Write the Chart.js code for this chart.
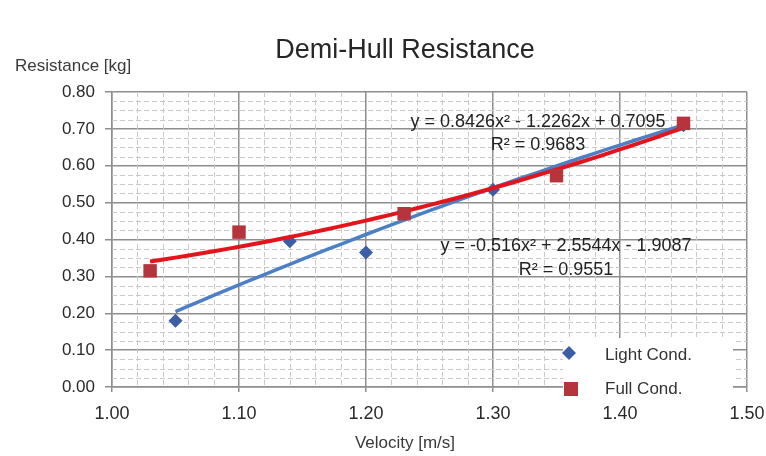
<!DOCTYPE html>
<html>
<head>
<meta charset="utf-8">
<script src="https://cdn.jsdelivr.net/npm/chart.js@4.4.1/dist/chart.umd.min.js"></script>
<style>
  html, body { margin: 0; padding: 0; background: #fff; }
  #wrap { width: 766px; height: 456px; position: relative; }
</style>
</head>
<body>
<div id="wrap"><canvas id="chart" width="766" height="456"></canvas></div>
<script>
// data
const lightX = [1.05, 1.14, 1.20, 1.30, 1.45];
const lightY = [0.18, 0.395, 0.365, 0.535, 0.71];
const fullX = [1.03, 1.10, 1.23, 1.35, 1.45];
const fullY = [0.315, 0.42, 0.47, 0.573, 0.715];

// polynomial trendline coefficients as printed on the chart (a, b, c)
const lightFit = [-0.516, 2.5544, -1.9087];
const fullFit = [0.8426, -1.2262, 0.7095];
const lightEq = ['y = -0.516x² + 2.5544x - 1.9087', 'R² = 0.9551'];
const fullEq = ['y = 0.8426x² - 1.2262x + 0.7095', 'R² = 0.9683'];

const xTicks = [1.00, 1.10, 1.20, 1.30, 1.40, 1.50];
const yTicks = [0.00, 0.10, 0.20, 0.30, 0.40, 0.50, 0.60, 0.70, 0.80];

const BLUE_MK = '#3c5ea6', BLUE_LN = '#4b7fc6';
const RED_MK = '#b6343b', RED_LN = '#e2141c';
const FONT = "'Liberation Sans', Arial, sans-serif";

function pts(xs, ys) { return xs.map((x, i) => ({ x: x, y: ys[i] })); }

// sample the printed trendline across the span of its own series
function trend(coef, xs) {
    const lo = Math.min(...xs), hi = Math.max(...xs);
    const out = [];
    const n = 40;
    for (let i = 0; i <= n; i++) {
        const x = lo + (hi - lo) * i / n;
        out.push({ x: x, y: coef[0] * x * x + coef[1] * x + coef[2] });
    }
    return out;
}

const minorGrid = {
    id: 'minorGrid',
    beforeDatasetsDraw(chart) {
        const { ctx, chartArea: a, scales: { x, y } } = chart;
        ctx.save();
        ctx.strokeStyle = '#c9c9c9';
        ctx.lineWidth = 1;
        ctx.setLineDash([5, 3]);
        for (let v = 1.02; v < 1.5; v += 0.02) {
            if (Math.abs(v * 10 - Math.round(v * 10)) < 0.01) continue;
            const px = Math.round(x.getPixelForValue(v)) + 0.5;
            ctx.beginPath(); ctx.moveTo(px, a.top); ctx.lineTo(px, a.bottom); ctx.stroke();
        }
        for (let v = 0.025; v < 0.8; v += 0.025) {
            if (Math.abs(v * 10 - Math.round(v * 10)) < 0.01) continue;
            const py = Math.round(y.getPixelForValue(v)) + 0.5;
            ctx.beginPath(); ctx.moveTo(a.left, py); ctx.lineTo(a.right, py); ctx.stroke();
        }
        ctx.restore();
    }
};

const labels = {
    id: 'labels',
    afterDraw(chart) {
        const ctx = chart.ctx;
        ctx.save();
        ctx.fillStyle = '#262626';
        ctx.textBaseline = 'alphabetic';

        ctx.font = '27px ' + FONT;
        ctx.textAlign = 'center';
        ctx.fillText('Demi-Hull Resistance', 405, 58);

        ctx.font = '17px ' + FONT;
        ctx.fillStyle = '#3a3a3a';
        ctx.fillText('Velocity [m/s]', 405, 448);
        ctx.textAlign = 'left';
        ctx.fillText('Resistance [kg]', 15, 71);

        // trendline equations
        ctx.fillStyle = '#222';
        ctx.font = '18px ' + FONT;
        ctx.textAlign = 'center';
        ctx.fillText(fullEq[0], 538, 127);
        ctx.fillText(fullEq[1], 538, 150);
        ctx.fillText(lightEq[0], 566, 251);
        ctx.fillText(lightEq[1], 566, 275);

        // legend
        ctx.fillStyle = '#fff';
        ctx.fillRect(563, 338, 170, 60);
        ctx.fillStyle = BLUE_MK;
        ctx.beginPath();
        ctx.moveTo(569, 346); ctx.lineTo(576, 353); ctx.lineTo(569, 360); ctx.lineTo(562, 353);
        ctx.closePath(); ctx.fill();
        ctx.fillStyle = RED_MK;
        ctx.fillRect(564, 382, 14, 14);
        ctx.fillStyle = '#333';
        ctx.font = '17px ' + FONT;
        ctx.textAlign = 'left';
        ctx.fillText('Light Cond.', 605, 360);
        ctx.fillText('Full Cond.', 605, 394);
        ctx.restore();
    }
};

new Chart(document.getElementById('chart'), {
    type: 'scatter',
    data: {
        datasets: [
            {
                label: 'Full Cond.', data: pts(fullX, fullY), order: 0,
                pointStyle: 'rect', pointRadius: 9.5, pointHoverRadius: 9.5,
                backgroundColor: RED_MK, borderColor: RED_MK, borderWidth: 0
            },
            {
                label: 'Full trend', data: trend(fullFit, fullX), order: 1,
                showLine: true, pointRadius: 0, borderColor: RED_LN, borderWidth: 4
            },
            {
                label: 'Light trend', data: trend(lightFit, lightX), order: 2,
                showLine: true, pointRadius: 0, borderColor: BLUE_LN, borderWidth: 3.5
            },
            {
                label: 'Light Cond.', data: pts(lightX, lightY), order: 3,
                pointStyle: 'rectRot', pointRadius: 7, pointHoverRadius: 7,
                backgroundColor: BLUE_MK, borderColor: BLUE_MK, borderWidth: 0
            }
        ]
    },
    options: {
        responsive: false,
        animation: false,
        layout: { padding: { top: 92, right: 19, left: 0, bottom: 0 } },
        plugins: { legend: { display: false }, title: { display: false }, tooltip: { enabled: false } },
        scales: {
            x: {
                type: 'linear', min: 1.0, max: 1.5,
                afterFit(s) { s.height = 69; s.paddingLeft = 0; s.paddingRight = 0; },
                afterBuildTicks(s) { s.ticks = xTicks.map(v => ({ value: v })); },
                grid: { color: '#8e8e8e', lineWidth: 1.5, tickLength: 5 },
                border: { color: '#8e8e8e', width: 1.5 },
                ticks: { padding: 11, color: '#2a2a2a', font: { family: FONT, size: 18 },
                         callback: v => v.toFixed(2) }
            },
            y: {
                min: 0, max: 0.8,
                afterFit(s) { s.width = 112; s.paddingTop = 0; s.paddingBottom = 0; },
                afterBuildTicks(s) { s.ticks = yTicks.map(v => ({ value: v })); },
                grid: { color: '#8e8e8e', lineWidth: 1.5, tickLength: 7 },
                border: { color: '#8e8e8e', width: 1.5 },
                ticks: { padding: 10, color: '#2a2a2a', font: { family: FONT, size: 17 },
                         callback: v => v.toFixed(2) }
            }
        }
    },
    plugins: [minorGrid, labels]
});
</script>
</body>
</html>
